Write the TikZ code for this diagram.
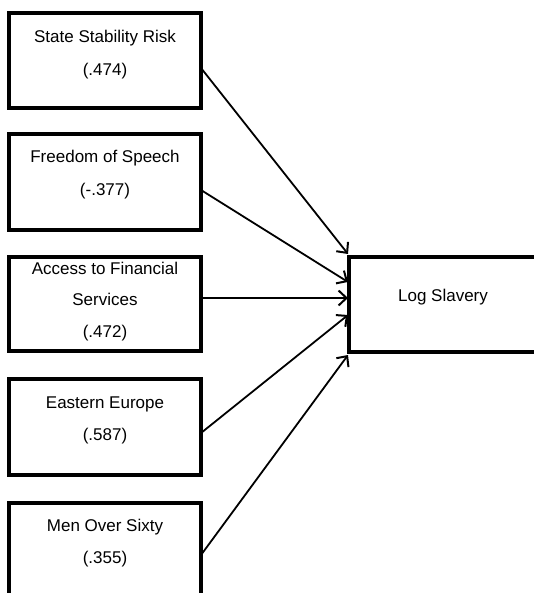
\documentclass[tikz,border=0pt]{standalone}
\usepackage{fontspec}
\setmainfont{Liberation Sans}
\usetikzlibrary{arrows.meta,calc}
\begin{document}
\begin{tikzpicture}[x=1pt,y=-1pt,
  box/.style={draw=black,line width=3.2pt,rectangle,inner sep=0pt,outer sep=0pt},
  txt/.style={align=center,font=\fontsize{17}{33}\selectfont,inner sep=0pt},
  link/.style={draw=black,line width=1.8pt,-{Straight Barb[length=8pt,width=15pt,line width=2pt]}}]
\useasboundingbox (0,0) rectangle (534,593);
\clip (0,0) rectangle (534,593);
% boxes
\node[box,minimum width=192pt,minimum height=95pt] (b1) at (105,60.5) {};
\node[box,minimum width=192pt,minimum height=96pt] (b2) at (105,182) {};
\node[box,minimum width=192pt,minimum height=94pt] (b3) at (105,304) {};
\node[box,minimum width=192pt,minimum height=96pt] (b4) at (105,427) {};
\node[box,minimum width=192pt,minimum height=110pt] (b5) at (105,558) {};
\node[box,minimum width=220pt,minimum height=95pt] (ls) at (459,304.5) {};
% texts
\node[txt] (t1) at (105,54.5) {State Stability Risk\\(.474)};
\node[txt] (t2) at (105,175) {Freedom of Speech\\(-.377)};
\node[txt,font=\fontsize{17}{31.5}\selectfont] (t3) at (105,301.5) {Access to Financial\\Services\\(.472)};
\node[txt,font=\fontsize{17}{32}\selectfont] (t4) at (105,420) {Eastern Europe\\(.587)};
\node[txt,font=\fontsize{17}{32}\selectfont] (t5) at (105,543) {Men Over Sixty\\(.355)};
\node[txt] (tl) at (443,297) {Log Slavery};
% connector ends
\coordinate (s1) at ($(b1.east)+(0,7.5)$);
\coordinate (s2) at ($(b2.east)+(0,8)$);
\coordinate (s3) at ($(b3.east)+(0,-6)$);
\coordinate (s4) at ($(b4.east)+(0,6)$);
\coordinate (s5) at ($(b5.east)+(0,-3)$);
\coordinate (e1) at ($(ls.north west)+(-1,-3)$);
\coordinate (e2) at ($(ls.north west)+(-1,25)$);
\coordinate (e3) at ($(ls.north west)+(-1,41)$);
\coordinate (e4) at ($(ls.north west)+(-1,58)$);
\coordinate (e5) at ($(ls.south west)+(-1,3)$);
\draw[link] (s1) -- (e1);
\draw[link] (s2) -- (e2);
\draw[link] (s3) -- (e3);
\draw[link] (s4) -- (e4);
\draw[link] (s5) -- (e5);
\end{tikzpicture}
\end{document}
